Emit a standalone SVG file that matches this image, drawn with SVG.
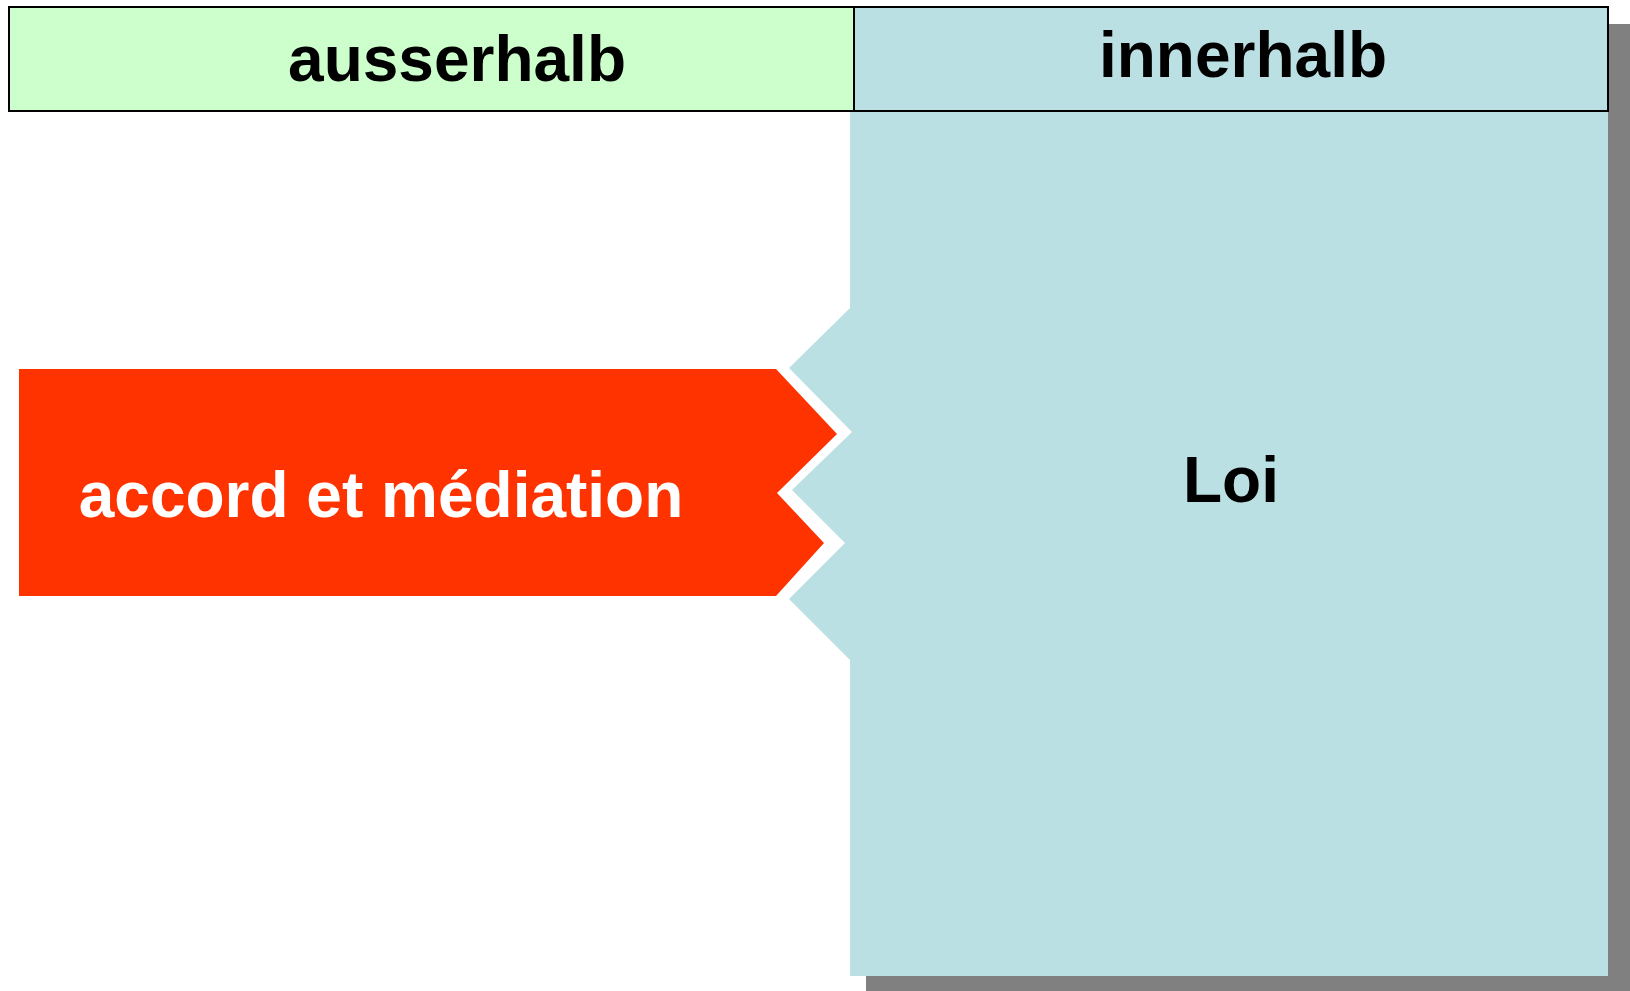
<svg xmlns="http://www.w3.org/2000/svg" width="1630" height="991" viewBox="0 0 1630 991">
<style>
.hdr{font-family:"Liberation Sans",Arial,sans-serif;font-weight:bold;font-size:64px;text-anchor:middle;fill:#000}
.lbl{font-family:"Liberation Sans",Arial,sans-serif;font-weight:bold;font-size:64px;text-anchor:middle}
</style>
<rect width="1630" height="991" fill="#fff"/>
<g id="shadow">
<rect x="866" y="24" width="764" height="967" fill="#808080"/>
</g>
<g id="loi">
<polygon points="850,111 1608,111 1608,976 850,976 850,660 789,599 845,543 792,490 852,432 789,368 850,308" fill="#BBE0E3"/>
<text class="lbl" x="1231" y="502" fill="#000">Loi</text>
</g>
<g id="header-ausserhalb">
<rect x="9" y="7" width="845" height="104" fill="#CCFFCC" stroke="#000" stroke-width="2"/>
<text class="hdr" x="457" y="81">ausserhalb</text>
</g>
<g id="header-innerhalb">
<rect x="854" y="7" width="754" height="104" fill="#BBE0E3" stroke="#000" stroke-width="2"/>
<text class="hdr" x="1243" y="77">innerhalb</text>
</g>
<g id="accord">
<polygon points="19,369 776,369 837,434 777,493 824,543 776,596 19,596" fill="#FF3300"/>
<text class="lbl" x="381" y="517" fill="#fff">accord et médiation</text>
</g>
<g id="connectors"></g>
</svg>
